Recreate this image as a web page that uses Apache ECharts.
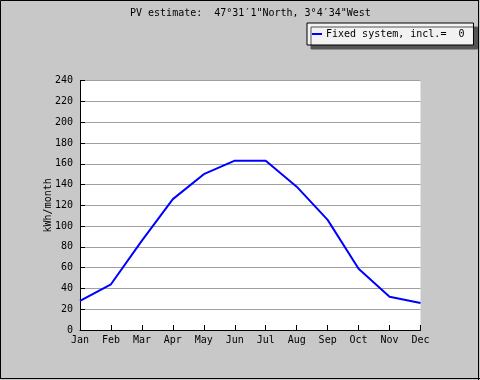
<!DOCTYPE html>
<html>
<head>
<meta charset="utf-8">
<script src="https://cdn.jsdelivr.net/npm/echarts@6/dist/echarts.min.js"></script>
<style>
html,body{margin:0;padding:0;background:#c8c8c8;}
#c{width:480px;height:380px;}
</style>
</head>
<body>
<div id="c"></div>
<script>
const titleText = 'PV estimate:  47°31′1"North, 3°4′34"West';
const months = ['Jan','Feb','Mar','Apr','May','Jun','Jul','Aug','Sep','Oct','Nov','Dec'];
const seriesName = 'Fixed system, incl.=  0';
const values = [28, 44, 86, 126, 150, 163, 163, 138, 106, 59, 32, 26];
const yAxisName = 'kWh/month';

const FONT = '"DejaVu Sans Mono", monospace';
const chart = echarts.init(document.getElementById('c'), null, {renderer: 'canvas'});
chart.setOption({
  backgroundColor: '#c8c8c8',
  animation: false,
  title: {
    text: titleText,
    left: 130, top: 8, padding: 0,
    textStyle: {fontFamily: FONT, fontSize: 10, fontWeight: 'normal', color: '#000'}
  },
  legend: {
    data: [seriesName],
    left: 307, top: 23,
    padding: [6, 9, 6, 5],
    itemWidth: 10, itemHeight: 2, itemGap: 0,
    icon: 'rect',
    backgroundColor: '#f2f2f2',
    borderColor: '#000', borderWidth: 1,
    shadowColor: '#555', shadowBlur: 0.01, shadowOffsetX: 4, shadowOffsetY: 4,
    textStyle: {fontFamily: FONT, fontSize: 10, color: '#000', padding: [0,0,0,-1]}
  },
  grid: {
    left: 80, right: 59.5, top: 80.7, bottom: 50,
    show: true, backgroundColor: '#ffffff', borderWidth: 0
  },
  xAxis: {
    type: 'category',
    data: months,
    boundaryGap: false,
    axisLine: {lineStyle: {color: '#000', width: 1}},
    axisTick: {inside: true, length: 5, lineStyle: {color: '#000'}},
    axisLabel: {fontFamily: FONT, fontSize: 10, color: '#000', margin: 5},
    splitLine: {show: false}
  },
  yAxis: {
    type: 'value',
    min: 0, max: 240, interval: 20,
    name: yAxisName,
    nameLocation: 'middle',
    nameGap: 27,
    nameMoveOverlap: false,
    nameTextStyle: {fontFamily: FONT, fontSize: 10, color: '#000'},
    axisLine: {show: true, lineStyle: {color: '#000', width: 1}},
    axisTick: {show: true, inside: true, length: 5, lineStyle: {color: '#000'}},
    axisLabel: {fontFamily: FONT, fontSize: 10, color: '#000', margin: 7},
    splitLine: {show: true, lineStyle: {color: '#a0a0a0', width: 1}}
  },
  series: [{
    name: seriesName,
    type: 'line',
    data: values,
    symbol: 'none',
    lineStyle: {color: '#0000ff', width: 2},
    itemStyle: {color: '#0000ff'}
  }],
  graphic: [{
    type: 'rect',
    shape: {x: 0.5, y: 0.5, width: 478, height: 378},
    style: {fill: 'none', stroke: '#000', lineWidth: 1},
    silent: true
  }, {
    type: 'line',
    shape: {x1: 478.5, y1: 0, x2: 478.5, y2: 380},
    style: {stroke: '#000', lineWidth: 1}, silent: true
  }, {
    type: 'line',
    shape: {x1: 0, y1: 378.5, x2: 480, y2: 378.5},
    style: {stroke: '#000', lineWidth: 1}, silent: true
  }]
});
</script>
</body>
</html>
